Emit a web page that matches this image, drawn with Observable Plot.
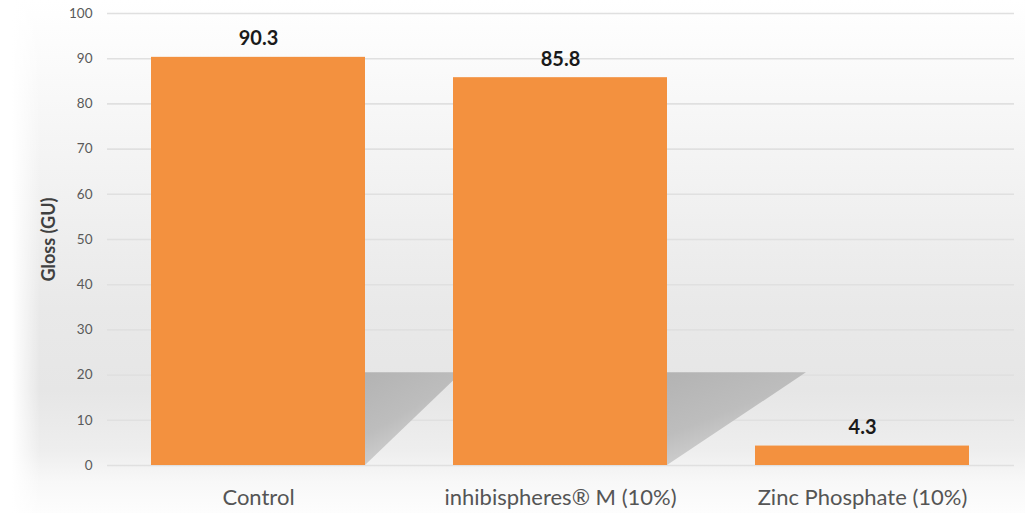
<!DOCTYPE html>
<html>
<head>
<meta charset="utf-8">
<script src="https://cdn.jsdelivr.net/npm/d3@7"></script>
<script src="https://cdn.jsdelivr.net/npm/@observablehq/plot@0.6"></script>
<style>
  html, body { margin: 0; padding: 0; background: #fff; }
  #chart svg { display: block; }
</style>
</head>
<body>
<div id="chart"></div>
<script>
const categories = ["Control", "inhibispheres® M (10%)", "Zinc Phosphate (10%)"];
const values = [90.3, 85.8, 4.3];
const labels = ["90.3", "85.8", "4.3"];
const yTicks = [0, 10, 20, 30, 40, 50, 60, 70, 80, 90, 100];
const shadowTop = 20.5;
const shadowSkew = [0.32, 0.46, 0];

const data = categories.map((c, i) => ({ category: c, value: values[i], label: labels[i], skew: shadowSkew[i] }));

function shadows(index, scales, values, dimensions, context) {
  const svg = d3.create("svg:g");
  const defs = svg.append("defs");
  const grad = defs.append("linearGradient").attr("id", "shadowGrad")
    .attr("x1", "0").attr("y1", "0").attr("x2", "0.6").attr("y2", "1");
  grad.append("stop").attr("offset", "0%").attr("stop-color", "#b3b3b3");
  grad.append("stop").attr("offset", "50%").attr("stop-color", "#bdbdbd");
  grad.append("stop").attr("offset", "100%").attr("stop-color", "#dcdcdc");
  const x = scales.scales.x;
  const bw = x.bandwidth;
  const step = x.step;
  for (const d of data) {
    if (!d.skew) continue;
    const xr = scales.x(d.category) + bw;
    const yt = scales.y(shadowTop);
    const y0 = scales.y(0);
    const off = d.skew * step;
    svg.append("path")
      .attr("d", `M${xr},${yt}L${xr + off},${yt}L${xr},${y0}Z`)
      .attr("fill", "url(#shadowGrad)");
  }
  return svg.node();
}

const plot = Plot.plot({
  width: 1025,
  height: 513,
  marginTop: 13,
  marginBottom: 48,
  marginLeft: 107,
  marginRight: 11,
  style: {
    background: "linear-gradient(to right, #ffffff 0px, #ffffff 12px, rgba(255,255,255,0) 40px), linear-gradient(to bottom, #ffffff 0%, #f4f4f4 30%, #e9e9e9 60%, #e6e6e6 76%, #eeeeee 88%, #f8f8f8 94%, #fdfdfd 100%)",
    fontFamily: "Lato, 'Open Sans', sans-serif",
    overflow: "visible"
  },
  x: { domain: categories, paddingInner: 0.29, paddingOuter: 0.145, label: null },
  y: { domain: [0, 100], ticks: yTicks, label: null },
  marks: [
    Plot.ruleY(yTicks, { stroke: "#e0e0e0", strokeWidth: 1.6 }),
    shadows,
    Plot.barY(data, { x: "category", y: "value", fill: "#f3913f" }),
    Plot.text(data, { x: "category", y: "value", text: "label", dy: -12, lineAnchor: "bottom",
      fontSize: 20, fontWeight: "bold", fill: "#1a1a1a" }),
    Plot.axisY({ ticks: yTicks, tickSize: 0, tickPadding: 15, fontSize: 13.5, fill: "#595959", label: null }),
    Plot.axisX({ tickSize: 0, tickPadding: 24, fontSize: 22, fill: "#555555", label: null }),
    Plot.text(["Gloss (GU)"], { frameAnchor: "left", textAnchor: "middle", dx: -58, rotate: -90, fontSize: 18, fontWeight: "bold", fill: "#404040" })
  ]
});
document.getElementById("chart").appendChild(plot);
</script>
</body>
</html>
